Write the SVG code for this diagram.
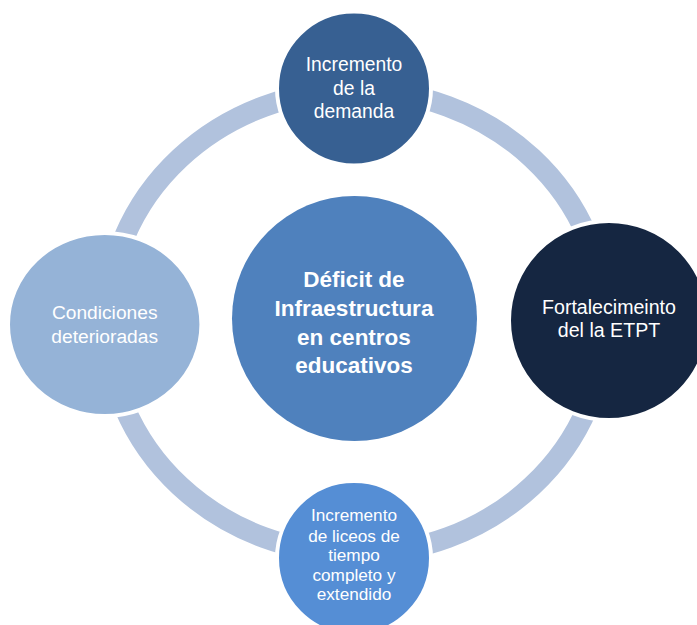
<svg xmlns="http://www.w3.org/2000/svg" width="697" height="625" viewBox="0 0 697 625">
<style>
.lbl{font-family:"Liberation Sans",Arial,sans-serif;fill:#ffffff;text-anchor:middle}
.node{stroke:#ffffff;stroke-width:4}
.ring{fill:none;stroke:#B1C2DD;stroke-width:21}
</style>
<rect width="697" height="625" fill="#ffffff"/>
<g id="connectors">
<ellipse class="ring" cx="356" cy="322" rx="249" ry="232"/>
</g>
<g id="center">
<circle cx="354.5" cy="318.5" r="122.5" fill="#4F81BD"/>
<text class="lbl" font-size="22.5" font-weight="bold"><tspan x="354" y="287">Déficit de</tspan><tspan x="354" y="316">Infraestructura</tspan><tspan x="354" y="345">en centros</tspan><tspan x="354" y="373">educativos</tspan></text>
</g>
<g id="top">
<circle class="node" cx="354" cy="88.5" r="77" fill="#376092"/>
<text class="lbl" font-size="19.3"><tspan x="354" y="71">Incremento</tspan><tspan x="354" y="94.5">de la</tspan><tspan x="354" y="118">demanda</tspan></text>
</g>
<g id="right">
<ellipse class="node" cx="609" cy="320.5" rx="100" ry="99.5" fill="#152641"/>
<text class="lbl" font-size="19.6"><tspan x="609" y="314">Fortalecimeinto</tspan><tspan x="609" y="337">del la ETPT</tspan></text>
</g>
<g id="left">
<ellipse class="node" cx="104.7" cy="324.5" rx="96.7" ry="91.5" fill="#95B3D7"/>
<text class="lbl" font-size="19.2"><tspan x="104.7" y="319">Condiciones</tspan><tspan x="104.7" y="343">deterioradas</tspan></text>
</g>
<g id="bottom">
<circle class="node" cx="354" cy="558" r="77" fill="#558ED5"/>
<text class="lbl" font-size="17.2"><tspan x="354" y="521">Incremento</tspan><tspan x="354" y="541.5">de liceos de</tspan><tspan x="354" y="561">tiempo</tspan><tspan x="354" y="580.5">completo y</tspan><tspan x="354" y="600">extendido</tspan></text>
</g>
</svg>
